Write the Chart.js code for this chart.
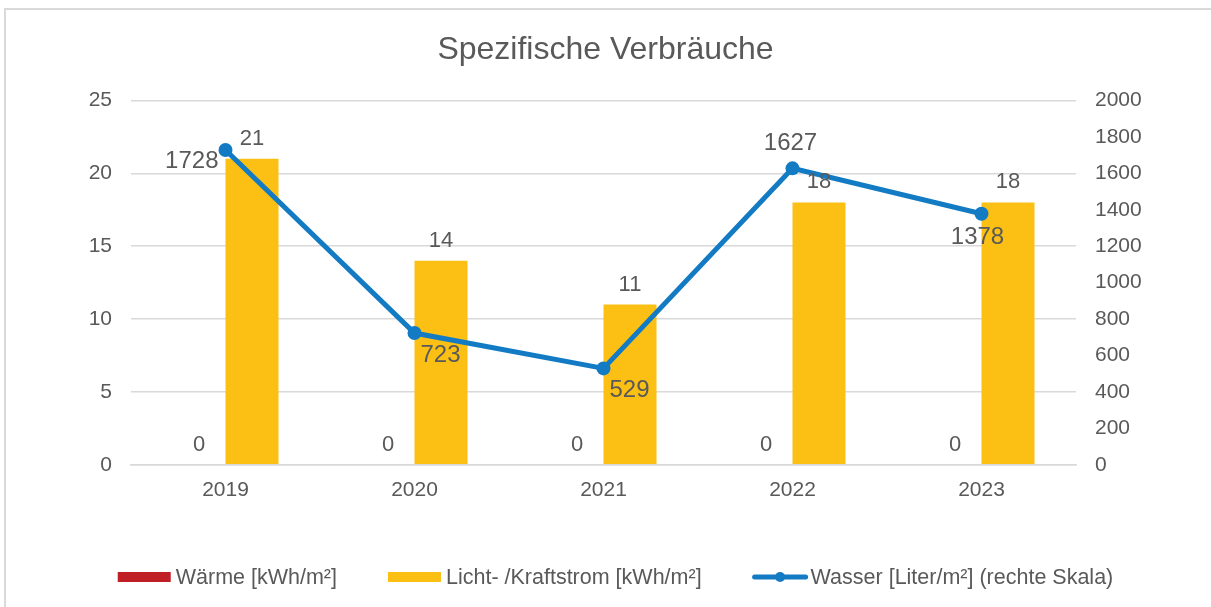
<!DOCTYPE html>
<html lang="de">
<head>
<meta charset="utf-8">
<title>Spezifische Verbräuche</title>
<script src="https://cdn.jsdelivr.net/npm/chart.js@4.4.1/dist/chart.umd.min.js"></script>
<style>
  html, body { margin: 0; padding: 0; background: #fff; }
  #wrap { width: 1211px; height: 607px; position: relative; }
</style>
</head>
<body>
<div id="wrap"><canvas id="verbrauchChart"></canvas></div>
<script>
// Jahreswerte
const years = ['2019', '2020', '2021', '2022', '2023'];
const waerme = [0, 0, 0, 0, 0];          // kWh/m²
const strom = [21, 14, 11, 18, 18];      // kWh/m²
const wasser = [1728, 723, 529, 1627, 1378]; // Liter/m², rechte Skala

const leftMax = 25;
const leftStep = 5;
const rightMax = 2000;
const rightStep = 200;

// where each water label sits relative to its point
const wasserLabelPos = ['left', 'belowRight', 'belowRight', 'above', 'below'];

const FONT = '"Liberation Sans", Arial, sans-serif';
const TEXT = '#595959';
const GRID = '#d9d9d9';

// light frame round the chart (left + top edge)
const frame = {
  id: 'frame',
  beforeDraw(chart) {
    const ctx = chart.ctx;
    ctx.save();
    ctx.strokeStyle = GRID;
    ctx.lineWidth = 2;
    ctx.beginPath();
    ctx.moveTo(5, chart.height);
    ctx.lineTo(5, 9);
    ctx.lineTo(chart.width, 9);
    ctx.stroke();
    ctx.restore();
  }
};

// value labels on bars and line points
const valueLabels = {
  id: 'valueLabels',
  afterDatasetsDraw(chart) {
    const ctx = chart.ctx;
    ctx.save();
    ctx.fillStyle = TEXT;
    ctx.textBaseline = 'middle';
    chart.data.datasets.forEach((ds, i) => {
      const meta = chart.getDatasetMeta(i);
      meta.data.forEach((el, j) => {
        const v = ds.data[j];
        if (meta.type === 'bar') {
          ctx.font = '22px ' + FONT;
          ctx.textAlign = 'center';
          ctx.fillText(v, el.x, el.y - 20);
          return;
        }
        ctx.font = '24px ' + FONT;
        const pos = wasserLabelPos[j];
        if (pos === 'left') {
          ctx.textAlign = 'right';
          ctx.fillText(v, el.x - 7, el.y + 11);
        } else if (pos === 'belowRight') {
          ctx.textAlign = 'center';
          ctx.fillText(v, el.x + 26, el.y + 22);
        } else if (pos === 'above') {
          ctx.textAlign = 'center';
          ctx.fillText(v, el.x - 2, el.y - 25);
        } else {
          ctx.textAlign = 'center';
          ctx.fillText(v, el.x - 4, el.y + 24);
        }
      });
    });
    ctx.restore();
  }
};

// legend at the bottom, drawn by hand so the line entry gets its dot
const bottomLegend = {
  id: 'bottomLegend',
  afterDraw(chart) {
    const ctx = chart.ctx;
    const y = 577;
    const swatch = 53;
    const gapText = 5;
    const gapItem = 51;
    ctx.save();
    ctx.font = '21.5px ' + FONT;
    ctx.textBaseline = 'middle';
    ctx.textAlign = 'left';
    const items = chart.data.datasets.map(ds => ({
      ds,
      w: swatch + gapText + ctx.measureText(ds.label).width
    }));
    const total = items.reduce((s, it) => s + it.w, 0) + gapItem * (items.length - 1);
    let x = chart.width / 2 - total / 2 + 10;
    items.forEach(({ ds, w }) => {
      if (ds.type === 'line') {
        ctx.strokeStyle = ds.borderColor;
        ctx.lineWidth = 5;
        ctx.lineCap = 'round';
        ctx.beginPath();
        ctx.moveTo(x + 2, y);
        ctx.lineTo(x + swatch, y);
        ctx.stroke();
        ctx.fillStyle = ds.borderColor;
        ctx.beginPath();
        ctx.arc(x + swatch / 2 + 1, y, 5, 0, Math.PI * 2);
        ctx.fill();
      } else {
        ctx.fillStyle = ds.backgroundColor;
        ctx.fillRect(x, y - 5, swatch, 10);
      }
      ctx.fillStyle = TEXT;
      ctx.fillText(ds.label, x + swatch + gapText, y + 1);
      x += w + gapItem;
    });
    ctx.restore();
  }
};

new Chart(document.getElementById('verbrauchChart'), {
  data: {
    labels: years,
    datasets: [
      {
        type: 'bar',
        label: 'Wärme [kWh/m²]',
        data: waerme,
        backgroundColor: '#C01F26',
        yAxisID: 'y',
        order: 1
      },
      {
        type: 'bar',
        label: 'Licht- /Kraftstrom [kWh/m²]',
        data: strom,
        backgroundColor: '#FBC013',
        yAxisID: 'y',
        order: 1
      },
      {
        type: 'line',
        label: 'Wasser [Liter/m²] (rechte Skala)',
        data: wasser,
        borderColor: '#137BC3',
        backgroundColor: '#137BC3',
        borderWidth: 5,
        pointRadius: 7,
        pointBorderWidth: 0,
        pointBackgroundColor: '#137BC3',
        tension: 0,
        yAxisID: 'y1',
        order: 0
      }
    ]
  },
  options: {
    responsive: true,
    maintainAspectRatio: false,
    devicePixelRatio: 1,
    animation: false,
    layout: { padding: { left: 0, right: 0, top: 0, bottom: 91 } },
    datasets: {
      bar: { categoryPercentage: 0.561, barPercentage: 1 }
    },
    plugins: {
      legend: { display: false },
      tooltip: { enabled: false },
      title: {
        display: true,
        text: 'Spezifische Verbräuche',
        color: TEXT,
        font: { family: FONT, size: 32, weight: 'normal' },
        padding: { top: 31, bottom: 31 }
      }
    },
    scales: {
      x: {
        offset: true,
        grid: { display: false, drawTicks: false },
        border: { display: true, color: GRID, width: 1.5 },
        ticks: { color: TEXT, font: { family: FONT, size: 21 }, padding: 13 }
      },
      y: {
        position: 'left',
        min: 0,
        max: leftMax,
        grid: { color: GRID, lineWidth: 1.5, drawTicks: false },
        border: { display: false },
        ticks: { stepSize: leftStep, color: TEXT, font: { family: FONT, size: 21 }, padding: 19 },
        afterFit(scale) { scale.width = 131; }
      },
      y1: {
        position: 'right',
        min: 0,
        max: rightMax,
        grid: { display: false, drawTicks: false },
        border: { display: false },
        ticks: {
          stepSize: rightStep,
          color: TEXT,
          font: { family: FONT, size: 21 },
          padding: 19,
          callback: v => String(v)
        },
        afterFit(scale) { scale.width = 135; }
      }
    }
  },
  plugins: [frame, valueLabels, bottomLegend]
});
</script>
</body>
</html>
